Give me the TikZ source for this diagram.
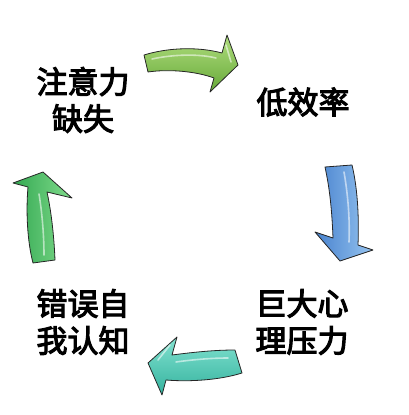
\documentclass[tikz,border=0pt]{standalone}
\usepackage{fontspec}
\newfontfamily\cjk[FakeBold=3.5]{Noto Sans CJK SC}
\usepackage{tikz}

\definecolor{limeLight}{RGB}{176,222,126}
\definecolor{limeDark}{RGB}{102,168,56}
\definecolor{skyLight}{RGB}{150,196,240}
\definecolor{skyDark}{RGB}{72,130,206}
\definecolor{tealLight}{RGB}{130,226,208}
\definecolor{tealDark}{RGB}{52,178,158}
\definecolor{mintLight}{RGB}{128,220,140}
\definecolor{mintDark}{RGB}{52,168,82}

\tikzset{
	blockarrow/.style={draw=black!85, line width=0.8pt, line join=round},
	shine/.style={white, opacity=0.55, line width=1.6pt, line cap=round},
	cycletext/.style={font=\cjk\fontsize{31}{37}\selectfont, align=center, inner sep=0pt}
}

\begin{document}
\begin{tikzpicture}[x=1pt, y=-1pt]
	\useasboundingbox (0,0) rectangle (408,415);

	% top arrow, to the right
	\draw[blockarrow, top color=limeLight, bottom color=limeDark]
		(144,55) .. controls (170,47) and (200,47) .. (222,53) -- (227,35) -- (238,65)
		-- (210,92) -- (214,78) .. controls (195,71) and (168,69) .. (148,72) -- cycle;
	\draw[shine] (152,59) .. controls (175,54) and (200,54) .. (216,58);
	\draw[shine] (226,45) -- (231,62);

	% right arrow, downwards
	\draw[blockarrow, left color=skyDark, right color=skyLight]
		(325,167) -- (352,165) .. controls (358,190) and (359,220) .. (358,245) -- (373,250)
		-- (340,261) -- (315,232) -- (333,238) .. controls (332,212) and (330,190) .. (325,167) -- cycle;
	\draw[shine] (344,172) .. controls (348,195) and (350,220) .. (349,242);

	% bottom arrow, to the left
	\draw[blockarrow, top color=tealLight, bottom color=tealDark]
		(235,350) -- (242,373) .. controls (220,380) and (190,382) .. (166,380) -- (162,395)
		-- (148,363) -- (177,337) -- (172,355) .. controls (195,352) and (215,350) .. (235,350) -- cycle;
	\draw[shine] (228,358) .. controls (210,358) and (190,360) .. (176,362);
	\draw[shine] (170,345) -- (158,360);

	% left arrow, upwards
	\draw[blockarrow, left color=mintDark, right color=mintLight]
		(33,263) -- (55,260) .. controls (54,235) and (51,210) .. (47,192) -- (72,198)
		-- (43,172) -- (13,183) -- (28,187) .. controls (26,210) and (27,240) .. (33,263) -- cycle;
	\draw[shine] (44,255) .. controls (44,235) and (42,212) .. (39,194);

	\node[cycletext] (attention) at (83,100) {注意力\\缺失};
	\node[cycletext] (lowrate) at (303,102) {低效率};
	\node[cycletext] (pressure) at (302,322) {巨大心\\理压力};
	\node[cycletext] (selfview) at (83,322) {错误自\\我认知};
\end{tikzpicture}
\end{document}
